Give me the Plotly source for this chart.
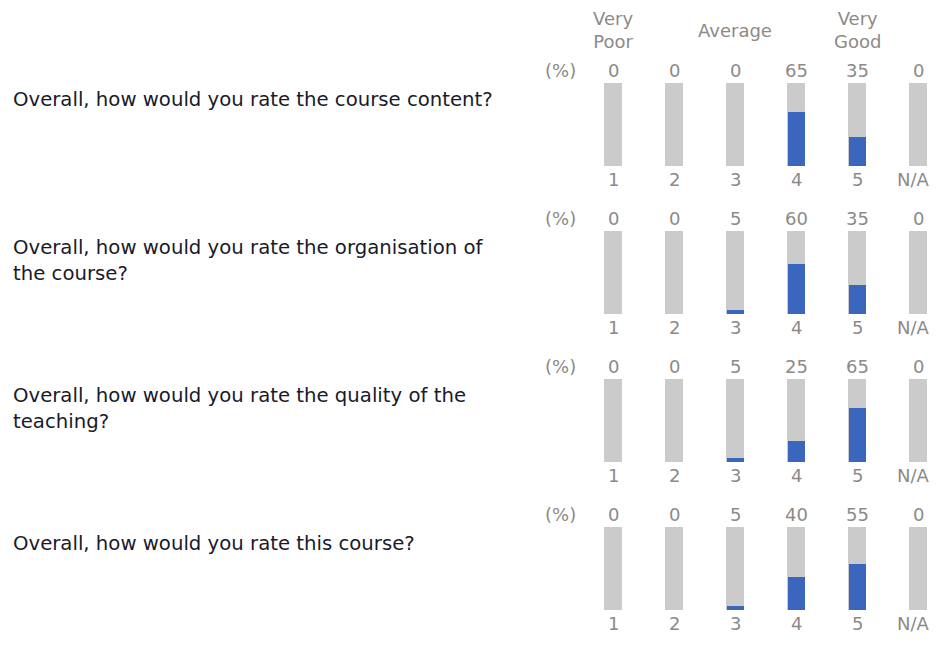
import plotly.graph_objects as go

QUESTIONS = [
    'Overall, how would you rate the course content?',
    'Overall, how would you rate the organisation of<br>the course?',
    'Overall, how would you rate the quality of the<br>teaching?',
    'Overall, how would you rate this course?',
]
CATEGORIES = ['1', '2', '3', '4', '5', 'N/A']
CONTENT = [0, 0, 0, 65, 35, 0]
ORGANISATION = [0, 0, 5, 60, 35, 0]
TEACHING = [0, 0, 5, 25, 65, 0]
COURSE = [0, 0, 5, 40, 55, 0]
ROWS = [CONTENT, ORGANISATION, TEACHING, COURSE]

HEADER_POS = [0, 2, 4]  # category index under each header
HEADER_TEXT = ['Very<br>Poor', 'Average', 'Very<br>Good']

# the page body adds an 8px margin, so the figure is drawn 8px smaller
OFF = 8
W, H = 939 - OFF, 645 - OFF
BAR_TOPS = [83, 231, 379, 527]  # px in the reference picture
BAR_H = 83
X0, X1 = 594.7, 936.3

GRAY = '#cbcbcb'
BLUE = '#3a66be'
TXT_GRAY = '#8c8a88'
FONT = 'DejaVu Sans'
LBL_SIZE = 18
Q_SIZE = 19.7


def px_x(px):
    return (px - OFF) / W


def px_y(px):
    return 1 - (px - OFF) / H


fig = go.Figure()
layout = {}

for i, vals in enumerate(ROWS):
    n = '' if i == 0 else str(i + 1)
    xa, ya = 'x' + n, 'y' + n
    fig.add_trace(go.Bar(
        x=CATEGORIES, y=[100] * len(CATEGORIES), width=0.3,
        marker=dict(color=GRAY, line=dict(width=0)),
        xaxis=xa, yaxis=ya, hoverinfo='skip', showlegend=False,
    ))
    fig.add_trace(go.Bar(
        x=CATEGORIES, y=vals, width=0.27,
        marker=dict(color=BLUE, line=dict(width=0)),
        xaxis=xa, yaxis=ya, showlegend=False,
        hovertemplate='%{x}: %{y}%<extra></extra>',
    ))
    top = BAR_TOPS[i]
    layout['xaxis' + n] = dict(
        domain=[px_x(X0), px_x(X1)], range=[-0.3, 5.3], anchor=ya,
        type='category', categoryorder='array', categoryarray=CATEGORIES,
        showgrid=False, zeroline=False, showline=False, ticks='',
        showticklabels=False,
    )
    layout['yaxis' + n] = dict(
        domain=[px_y(top + BAR_H), px_y(top)], range=[0, 100], anchor=xa,
        visible=False, fixedrange=True,
    )
    for j, (c, v) in enumerate(zip(CATEGORIES, vals)):
        # percentage above the bar
        fig.add_annotation(
            x=j, y=100, xref=xa, yref=ya, text=str(v), showarrow=False,
            yanchor='bottom', font=dict(family=FONT, size=LBL_SIZE, color=TXT_GRAY),
        )
        # rating label below the bar
        fig.add_annotation(
            x=j, y=0, xref=xa, yref=ya, text=c, showarrow=False,
            yanchor='top', yshift=-1, xshift=-5 if c == 'N/A' else 0,
            font=dict(family=FONT, size=LBL_SIZE, color=TXT_GRAY),
        )
    fig.add_annotation(
        x=px_x(560), y=100, xref='paper', yref=ya, text='(%)', showarrow=False,
        yanchor='bottom', font=dict(family=FONT, size=LBL_SIZE, color=TXT_GRAY),
    )
    # question text
    fig.add_annotation(
        x=px_x(11), y=px_y(top + 3), xref='paper', yref='paper', text=QUESTIONS[i],
        showarrow=False, xanchor='left', yanchor='top', align='left',
        font=dict(family=FONT, size=Q_SIZE, color='#1a1a2a'),
    )

# scale header
for j, t in zip(HEADER_POS, HEADER_TEXT):
    fig.add_annotation(
        x=j, y=px_y(30), xref='x', yref='paper', text=t, showarrow=False,
        yanchor='middle', font=dict(family=FONT, size=LBL_SIZE, color=TXT_GRAY),
    )

fig.update_layout(
    width=W, height=H, margin=dict(l=0, r=0, t=0, b=0),
    barmode='overlay', bargap=0,
    plot_bgcolor='white', paper_bgcolor='white',
    **layout,
)

fig.write_html('out.html')
